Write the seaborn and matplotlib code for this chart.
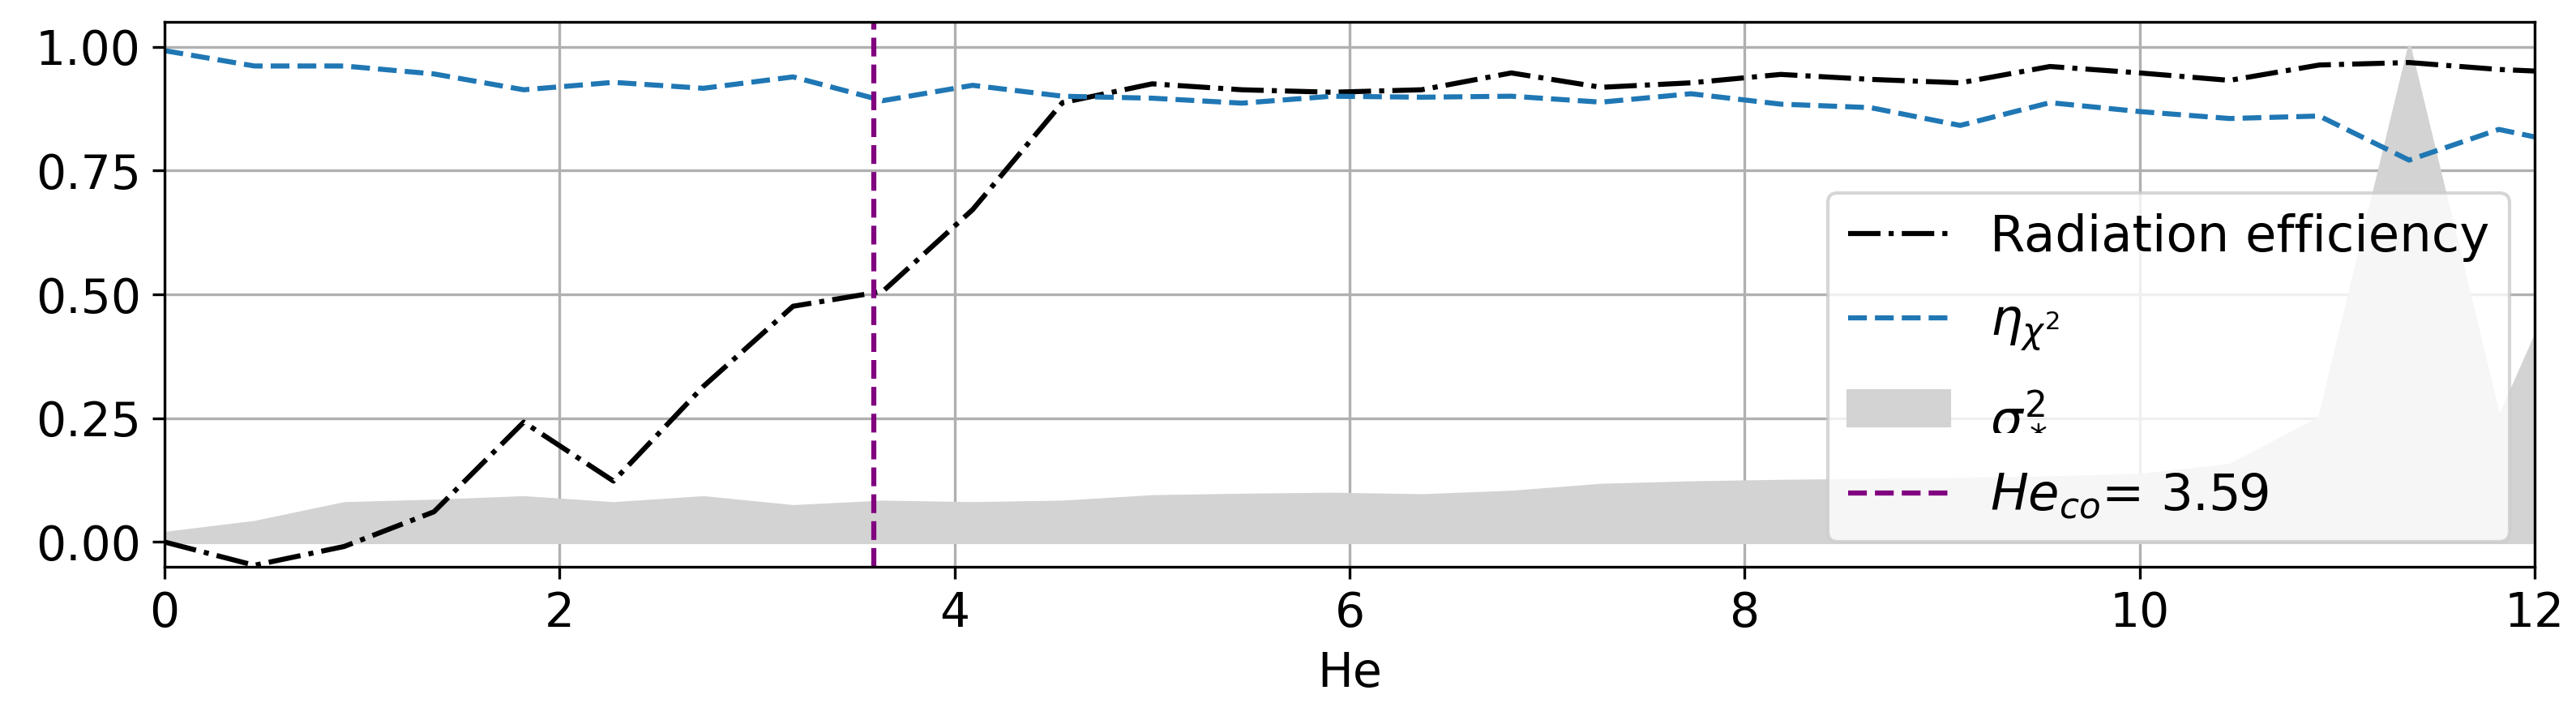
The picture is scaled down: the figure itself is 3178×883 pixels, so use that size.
import matplotlib
matplotlib.use("Agg")
import matplotlib.pyplot as plt
import seaborn as sns
import numpy as np
import pandas as pd

# He grid (step 15/33)
he = np.arange(28) * 15 / 33
radiation_eff = [0.000, -0.047, -0.009, 0.061, 0.242, 0.123, 0.314, 0.476, 0.506, 0.671,
                 0.887, 0.925, 0.913, 0.908, 0.913, 0.947, 0.918, 0.927, 0.944, 0.934,
                 0.927, 0.960, 0.947, 0.932, 0.963, 0.968, 0.954, 0.946]
eta_chi2 = [0.992, 0.961, 0.961, 0.945, 0.913, 0.928, 0.916, 0.939, 0.891, 0.922,
            0.900, 0.896, 0.886, 0.900, 0.898, 0.900, 0.888, 0.905, 0.884, 0.877,
            0.841, 0.887, 0.869, 0.855, 0.860, 0.771, 0.833, 0.795]
sigma2 = [0.018, 0.040, 0.078, 0.083, 0.090, 0.078, 0.090, 0.072, 0.081, 0.078,
          0.081, 0.092, 0.095, 0.097, 0.094, 0.101, 0.115, 0.120, 0.123, 0.125,
          0.127, 0.130, 0.135, 0.155, 0.250, 1.000, 0.250, 0.660]
he_co = 3.59

df = pd.DataFrame({"He": he, "rad": radiation_eff, "eta": eta_chi2, "sigma": sigma2})

sns.set_style("ticks", {"axes.grid": True, "grid.color": "#b0b0b0",
                        "axes.edgecolor": "black", "text.color": "black",
                        "axes.labelcolor": "black", "xtick.color": "black",
                        "ytick.color": "black"})
plt.rcParams.update({
    "font.size": 14,
    "xtick.labelsize": 14,
    "ytick.labelsize": 14,
    "axes.labelsize": 14,
    "legend.fontsize": 15,
})

fig, ax = plt.subplots(figsize=(3178 / 300, 883 / 300), dpi=300)

sns.lineplot(data=df, x="He", y="rad", color="black", linestyle="-.", lw=1.5,
             label="Radiation efficiency", ax=ax)
sns.lineplot(data=df, x="He", y="eta", color="#1f77b4", linestyle="--", lw=1.5,
             label=r"$\eta_{\chi^2}$", ax=ax)
ax.fill_between(df["He"], 0, df["sigma"], color="lightgray", label=r"$\sigma^2_*$")
ax.axvline(he_co, color="purple", linestyle="--", lw=1.5, label=rf"$He_{{co}}$= {he_co}")

ax.set_xlim(0, 12)
ax.set_ylim(-0.05, 1.05)
ax.set_yticks([0.0, 0.25, 0.5, 0.75, 1.0])
ax.set_xlabel("He")
ax.set_ylabel("")
ax.grid(True, color="#b0b0b0", lw=0.8)
for s in ax.spines.values():
    s.set_color("black")
    s.set_linewidth(0.8)

ax.legend(loc="lower right", framealpha=0.8, labelspacing=0.7)

fig.subplots_adjust(left=0.0639, right=0.984, top=0.9694, bottom=0.2084)
fig.savefig("out.png", dpi=300)
